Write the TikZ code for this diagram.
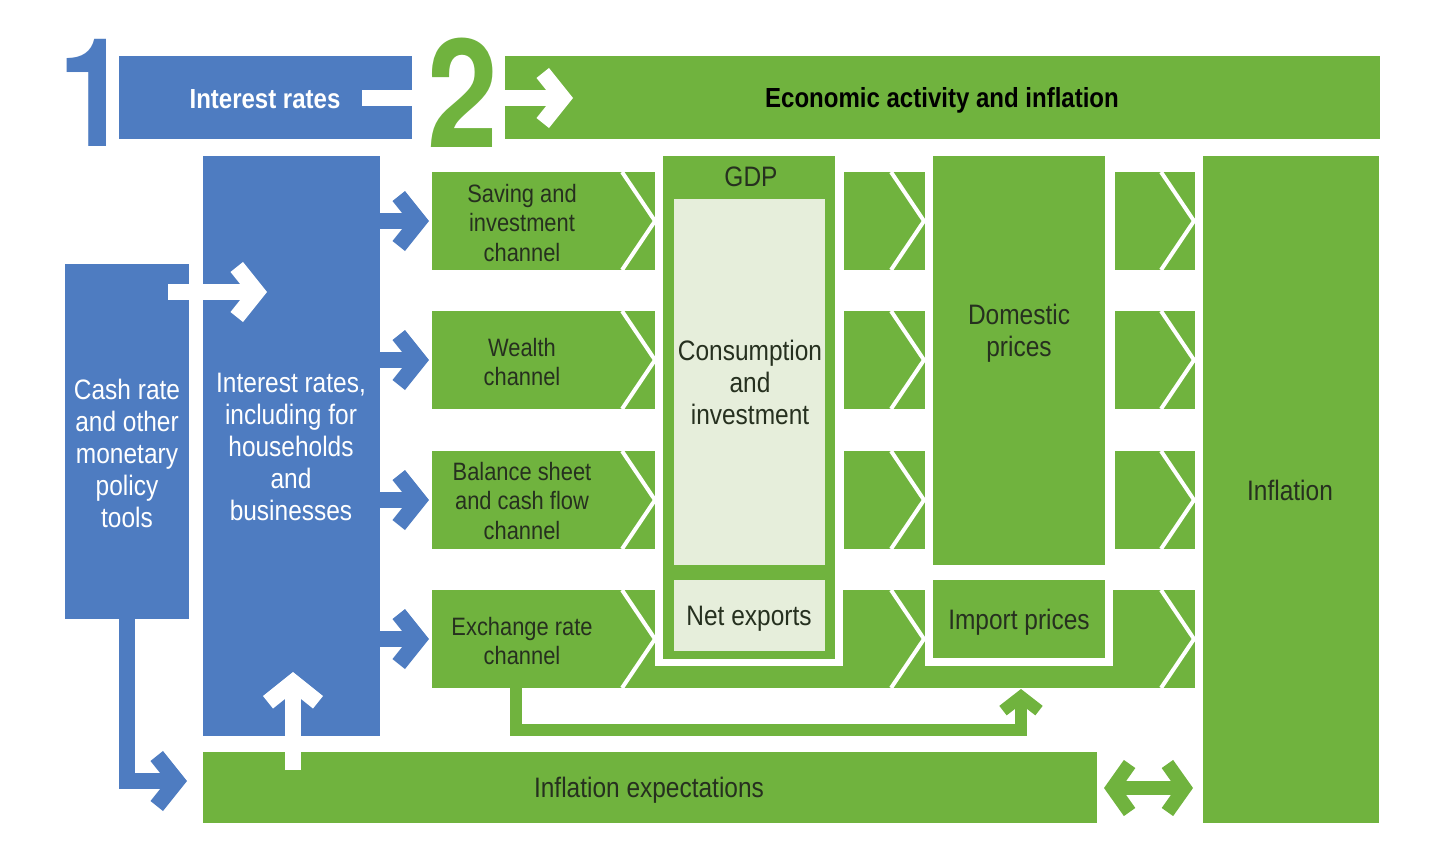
\documentclass[tikz,border=0pt]{standalone}
\usepackage{fontspec}
\setmainfont[FakeStretch=0.87]{Liberation Sans}
\newfontfamily\digitfont[FakeStretch=0.84]{TeX Gyre Heros}
\usetikzlibrary{arrows.meta}
\definecolor{rbablue}{HTML}{4E7CC1}
\definecolor{rbagreen}{HTML}{70B33E}
\definecolor{rbapale}{HTML}{E6EEDB}
\definecolor{rbaink}{HTML}{26301F}
\tikzset{
    block/.style={inner sep=0pt,outer sep=0pt,anchor=north west},
    bluebox/.style={block,fill=rbablue},
    greenbox/.style={block,fill=rbagreen},
    palebox/.style={block,fill=rbapale},
    caption/.style={align=center,inner sep=0pt,text=rbaink,font=\fontsize{8}{9.1}\selectfont},
    channeltext/.style={caption,font=\fontsize{7.15}{8.4}\selectfont},
    bannertext/.style={caption,font=\fontsize{7.85}{9.1}\selectfont\bfseries},
    whitecaption/.style={caption,text=white},
    digit/.style={inner sep=0pt,font=\fontsize{43}{43}\selectfont\digitfont\bfseries},
    bigarrow/.style={line width=0.16cm,-{Straight Barb[length=0.2cm,width=0.5cm]}},
    smallarrow/.style={line width=0.14cm,{Straight Barb[length=0.17cm,width=0.48cm]}-{Straight Barb[length=0.17cm,width=0.48cm]}},
    elbowarrow/.style={line width=0.12cm,-{Straight Barb[length=0.14cm,width=0.36cm]}},
}
\begin{document}
\begin{tikzpicture}[x=0.01cm,y=-0.01cm]
    \useasboundingbox (0,0) rectangle (1440,855);

    % top banners
    \node[bluebox,minimum width=2.93cm,minimum height=0.83cm] (ratesbanner) at (119,56) {};
    \node[greenbox,minimum width=8.74cm,minimum height=0.83cm] (activitybanner) at (505,56) {};
    \node[bannertext,text=white] (ratestext) at (265,99) {Interest rates};
    \node[bannertext,text=black] (activitytext) at (942,100) {Economic activity and inflation};
    \coordinate (bannerstart) at (362,98);
    \coordinate (bannerend) at (573,98);
    \draw[bigarrow,white] (bannerstart) -- (bannerend);
    \node[digit,text=rbablue] (one) at (94,93) {1};
    \node[digit,text=rbagreen] (two) at (463,93) {2};

    % blue column
    \node[bluebox,minimum width=1.24cm,minimum height=3.55cm] (cash) at (65,264) {};
    \node[bluebox,minimum width=1.77cm,minimum height=5.80cm] (rates) at (203,156) {};
    \node[whitecaption] (cashtext) at (127,453) {Cash rate\\and other\\monetary\\policy\\tools};
    \node[whitecaption] (ratestext2) at (291,447) {Interest rates,\\including for\\households\\and\\businesses};

    % channels, with the two columns of blank arrows behind them
    \foreach \y/\name in {172/saving,311/wealth,451/balance,590/exchange}
    {
        \node[greenbox,minimum width=2.23cm,minimum height=0.98cm] (\name) at (432,\y) {};
        \node[greenbox,minimum width=0.81cm,minimum height=0.98cm] (\name b) at (844,\y) {};
        \node[greenbox,minimum width=0.80cm,minimum height=0.98cm] (\name c) at (1115,\y) {};
    }
    \fill[rbagreen] (640,590) rectangle (1180,688);
    \foreach \y in {172,311,451,590}
    {
        \foreach \x in {622,891,1161}
        {
            \draw[white,line width=0.04cm] (\x,\y) -- (\x+33,\y+49) -- (\x,\y+98);
        }
    }
    \node[channeltext] (savingtext) at (522,223) {Saving and\\investment\\channel};
    \node[channeltext] (wealthtext) at (522,362) {Wealth\\channel};
    \node[channeltext] (balancetext) at (522,501) {Balance sheet\\and cash flow\\channel};
    \node[channeltext] (exchangetext) at (522,641) {Exchange rate\\channel};

    \foreach \name in {saving,wealth,balance,exchange}
    {
        \draw[bigarrow,rbablue,shorten >=0.03cm] (rates.east |- \name.west) -- (\name.west);
    }

    % GDP
    \fill[white] (655,156) rectangle (843,666);
    \node[greenbox,minimum width=1.72cm,minimum height=5.03cm] (gdp) at (663,156) {};
    \node[palebox,minimum width=1.51cm,minimum height=3.66cm] (consumption) at (674,199) {};
    \node[palebox,minimum width=1.51cm,minimum height=0.71cm] (netexports) at (674,580) {};
    \node[caption] (gdptext) at (751,177) {GDP};
    \node[caption] (consumptiontext) at (750,382) {Consumption\\and\\investment};
    \node[caption] (netexportstext) at (749,619) {Net exports};

    % prices
    \fill[white] (925,572) rectangle (1113,666);
    \node[greenbox,minimum width=1.72cm,minimum height=4.09cm] (domestic) at (933,156) {};
    \node[greenbox,minimum width=1.72cm,minimum height=0.78cm] (import) at (933,580) {};
    \node[caption] (domestictext) at (1019,333) {Domestic\\prices};
    \node[caption] (importtext) at (1019,622) {Import prices};

    % inflation
    \node[greenbox,minimum width=1.76cm,minimum height=6.67cm] (inflation) at (1203,156) {};
    \node[greenbox,minimum width=8.93cm,minimum height=0.71cm] (expectations) at (203,752) {};
    \node[caption] (inflationtext) at (1290,490) {Inflation};
    \node[caption] (expectationstext) at (649,790) {Inflation expectations};

    % arrows
    \coordinate (cashout) at (168,292);
    \coordinate (cashin) at (267,292);
    \draw[bigarrow,white] (cashout) -- (cashin);
    \coordinate (expectin) at (187,781);
    \draw[bigarrow,rbablue] (cash.south) |- (expectin);
    \coordinate (expectout) at (293,770);
    \coordinate (ratesin) at (293,672);
    \draw[bigarrow,white] (expectout) -- (ratesin);
    \coordinate (exchangeout) at (516,688);
    \coordinate (importin) at (1021,689);
    \draw[elbowarrow,rbagreen] (exchangeout) |- (1021,730) -- (importin);
    \coordinate (twowayleft) at (1104,788);
    \coordinate (twowayright) at (1193,788);
    \draw[smallarrow,rbagreen] (twowayleft) -- (twowayright);
\end{tikzpicture}
\end{document}
